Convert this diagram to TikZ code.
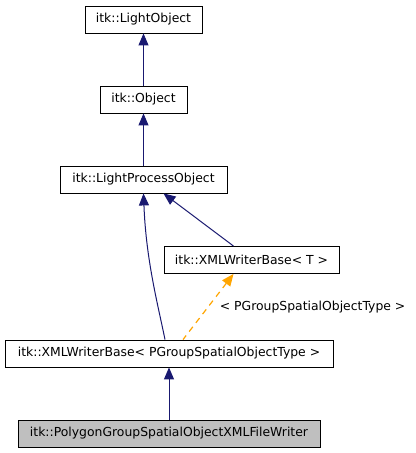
\documentclass[tikz,border=0pt]{standalone}
\usepackage{fontspec}
\setmainfont{DejaVu Sans}
\usetikzlibrary{arrows.meta,calc,positioning}
\definecolor{edgeblue}{HTML}{191970}
\definecolor{tmplorange}{HTML}{FFA500}
\definecolor{cursgrey}{HTML}{BFBFBF}

\begin{document}
\begin{tikzpicture}[x=0.75pt, y=-0.75pt,
	cls/.style={draw=black, line width=0.65pt, fill=white, minimum height=20.25pt, inner sep=0pt, font=\fontsize{9.3}{11}\selectfont},
	edge/.style={edgeblue, line width=0.75pt, {Triangle[length=9pt,width=7.5pt]}-},
	tmpl/.style={tmplorange, line width=0.9pt, dash pattern=on 4.5pt off 3.75pt, {Triangle[length=9pt,width=7.5pt]}-},
	lbl/.style={text=black, font=\fontsize{9.3}{11}\selectfont, inner sep=0pt}]
	\useasboundingbox (0, 0) rectangle (415, 453);
	\node[cls, minimum width=87.75pt] (lo) at (143.5, 19.5) {itk::LightObject};
	\node[cls, minimum width=65.25pt] (obj) at (143.5, 99.5) {itk::Object};
	\node[cls, minimum width=125.25pt] (lpo) at (143.5, 179.5) {itk::LightProcessObject};
	\node[cls, minimum width=131.25pt] (xwt) at (251.5, 260) {itk::XMLWriterBase< T >};
	\node[cls, minimum width=246pt] (xpg) at (169, 353.5) {itk::XMLWriterBase< PGroupSpatialObjectType >};
	\node[cls, fill=cursgrey, minimum width=226.5pt] (pgw) at (169, 433.5) {itk::PolygonGroupSpatialObjectXMLFileWriter};
	\draw[edge] (lo) -- (obj);
	\draw[edge] (obj) -- (lpo);
	\draw[edge] ($(lpo.south)+(20, 0)$) -- ($(xwt.north)+(-18, 0)$);
	\draw[edge] (lpo.south) .. controls (146, 260) and (158, 305) .. ($(xpg.north)+(-4, 0)$);
	\draw[tmpl] ($(xwt.south)+(-18, 0)$) -- node[lbl, midway, anchor=west, xshift=8.25pt] (tlbl) {< PGroupSpatialObjectType >} ($(xpg.north)+(14, 0)$);
	\draw[edge] (xpg) -- (pgw);
\end{tikzpicture}
\end{document}
